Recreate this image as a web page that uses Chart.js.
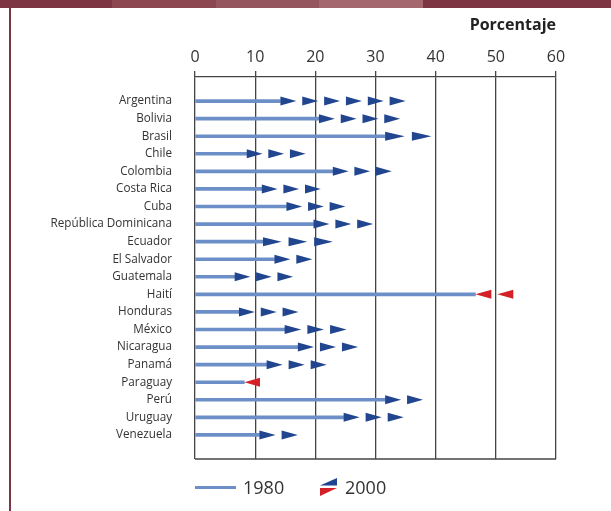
<!DOCTYPE html>
<html>
<head>
<meta charset="utf-8">
<script src="https://cdn.jsdelivr.net/npm/chart.js@4"></script>
<style>
  html, body { margin: 0; padding: 0; background: #fff; }
  body { width: 611px; height: 511px; position: relative; overflow: hidden; font-family: "Open Sans", sans-serif; }
  #topBar { position: absolute; left: 0; top: 0; width: 611px; height: 8px; display: flex; }
  #topBar div { height: 8px; }
  #leftRule { position: absolute; left: 9px; top: 8px; width: 2px; height: 503px; background: #7d3443; }
  #chart { position: absolute; left: 0; top: 0; }
  .lg { position: absolute; top: 474px; font-size: 18px; color: #333; line-height: 26px; }
</style>
</head>
<body>
<div id="topBar">
  <div style="width:112px;background:#7d3443"></div>
  <div style="width:104px;background:#8b4650"></div>
  <div style="width:103px;background:#965660"></div>
  <div style="width:104px;background:#a5676e"></div>
  <div style="flex:1;background:#7d3443"></div>
</div>
<div id="leftRule"></div>
<canvas id="chart" width="611" height="511"></canvas>

<div class="lg" style="left:195px;top:486px;width:41px;height:3px;background:#6d8fc7"></div>
<div class="lg" style="left:243px">1980</div>
<svg class="lg" style="left:319px;top:477px" width="20" height="21">
  <polygon points="18,1 18,8.5 1,8.5" fill="#1f4590"/>
  <polygon points="1,11 18,11 1,19" fill="#d42027"/>
</svg>
<div class="lg" style="left:345px">2000</div>

<script>
const countries = ['Argentina', 'Bolivia', 'Brasil', 'Chile', 'Colombia', 'Costa Rica', 'Cuba',
  'República Dominicana', 'Ecuador', 'El Salvador', 'Guatemala', 'Haití', 'Honduras', 'México',
  'Nicaragua', 'Panamá', 'Paraguay', 'Perú', 'Uruguay', 'Venezuela'];
const values1980 = [14.2, 20.6, 31.6, 8.6, 22.9, 11.1, 15.2, 19.7, 11.3, 13.2, 6.6, 52.9, 7.3, 14.9,
  17.1, 11.9, 10.8, 31.6, 24.7, 10.7];
const values2000 = [35.0, 34.1, 39.3, 18.4, 32.7, 20.9, 25.0, 29.6, 22.9, 19.5, 16.3, 46.6, 17.2, 25.2,
  27.1, 21.9, 8.2, 37.9, 34.7, 17.1];
const xTicks = [0, 10, 20, 30, 40, 50, 60];

const FONT = '"Open Sans", sans-serif';
const frameColor = '#444';

// triangles from the 1980 value to the 2000 value, drawn over the bars
const arrowPlugin = {
  id: 'arrows',
  afterDatasetsDraw(chart) {
    const { ctx, chartArea, scales: { x, y } } = chart;
    ctx.save();
    ctx.strokeStyle = frameColor;
    ctx.lineWidth = 1.3;
    ctx.beginPath();
    ctx.moveTo(chartArea.left, chartArea.bottom);
    ctx.lineTo(chartArea.right, chartArea.bottom);
    ctx.stroke();

    countries.forEach((c, i) => {
      const x1 = x.getPixelForValue(values1980[i]);
      const x2 = x.getPixelForValue(values2000[i]);
      const cy = y.getPixelForValue(i);
      const dir = x2 >= x1 ? 1 : -1;
      const diff = Math.abs(x2 - x1);
      const n = Math.max(1, Math.round(diff / 21.7 + 0.2));
      const step = diff / (n - 0.27);
      const len = step * 0.73;
      const h = 4.5;
      ctx.fillStyle = dir > 0 ? '#21468f' : '#d42027';
      for (let k = 0; k < n; k++) {
        const base = x1 + dir * k * step;
        const tip = base + dir * len;
        ctx.beginPath();
        ctx.moveTo(base, cy - h);
        ctx.lineTo(tip, cy);
        ctx.lineTo(base, cy + h);
        ctx.closePath();
        ctx.fill();
      }
    });
    ctx.restore();
  }
};

new Chart(document.getElementById('chart'), {
  type: 'bar',
  data: {
    datasets: [{
      label: '1980',
      data: countries.map((c, i) => ({ x: Math.min(values1980[i], values2000[i]), y: i })),
      backgroundColor: '#6d8fc7',
      barThickness: 3,
      borderWidth: 0
    }]
  },
  options: {
    indexAxis: 'y',
    responsive: false,
    animation: false,
    layout: { padding: { top: 0, right: 55, bottom: 52, left: 0 } },
    plugins: { legend: { display: false }, tooltip: { enabled: false } },
    scales: {
      x: {
        type: 'linear',
        position: 'top',
        min: 0,
        max: 60,
        afterBuildTicks(s) { s.ticks = xTicks.map(v => ({ value: v })); },
        afterFit(s) { s.height = 77; },
        ticks: { color: '#333', font: { family: FONT, size: 16 }, padding: 4 },
        grid: { color: frameColor, lineWidth: 1.3, tickLength: 6, tickColor: frameColor },
        border: { color: frameColor, width: 1.3 },
        title: {
          display: true, text: 'Porcentaje', align: 'end', color: '#222',
          font: { family: FONT, size: 16, weight: 'bold' },
          padding: { top: 16, bottom: 0 }
        }
      },
      y: {
        type: 'linear',
        reverse: true,
        offset: false,
        min: -1.37,
        max: 20.37,
        afterBuildTicks(s) { s.ticks = countries.map((c, i) => ({ value: i })); },
        afterFit(s) { s.width = 195; },
        ticks: {
          autoSkip: false,
          callback: (v) => countries[v],
          color: '#333',
          font: { family: FONT, size: 11.7 },
          padding: 23
        },
        grid: { display: false, drawTicks: false },
        border: { display: false }
      }
    }
  },
  plugins: [arrowPlugin]
});
</script>
</body>
</html>
